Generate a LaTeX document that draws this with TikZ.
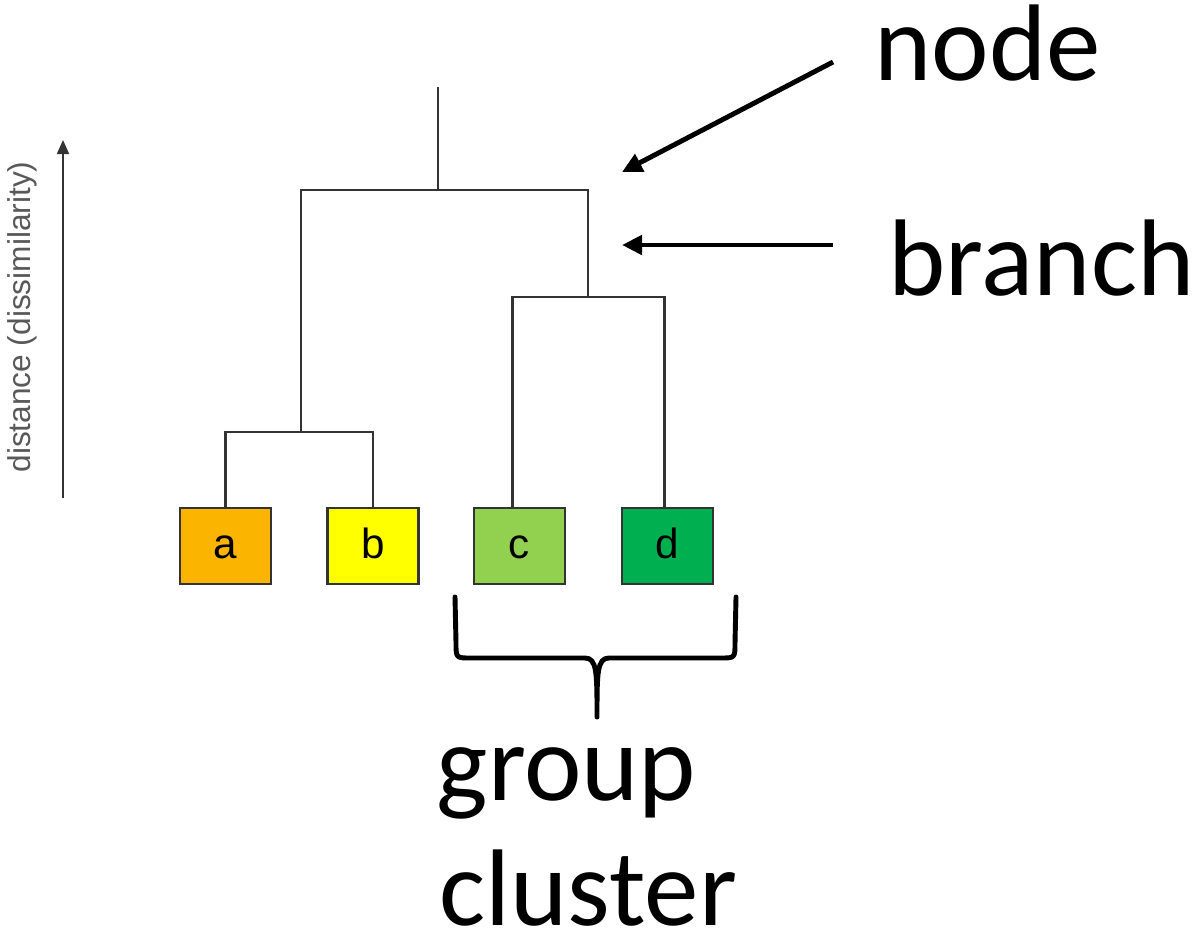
\documentclass[tikz,border=0pt]{standalone}
\usepackage{fontspec}
\setmainfont{Carlito}
\newfontfamily\arialfont{Liberation Sans}
\definecolor{leafa}{HTML}{FBB500}
\definecolor{leafb}{HTML}{FFFF00}
\definecolor{leafc}{HTML}{92D050}
\definecolor{leafd}{HTML}{00B050}
\definecolor{treegray}{HTML}{333333}
\usetikzlibrary{arrows.meta,positioning}

\tikzset{
  leaf/.style={draw=treegray, line width=0.8pt, minimum width=0.91cm, minimum height=0.76cm, inner sep=0pt, text height=0.73em, text depth=0pt, font=\arialfont\fontsize{12}{14}\selectfont},
  branchline/.style={draw=treegray, line width=0.6pt},
  callout/.style={-{Triangle[length=0.2cm, width=0.19cm]}, line width=1.4pt},
  bigword/.style={anchor=base west, inner sep=0pt, text depth=0pt, font=\fontsize{31}{37}\selectfont}
}

\begin{document}
\begin{tikzpicture}
  \useasboundingbox (0,0) rectangle (11.96,9.43);
  % Distance axis
  \coordinate (axisbot) at (0.63,4.45);
  \coordinate (axistop) at (0.63,8.03);
  \draw[-{Triangle[length=0.14cm, width=0.12cm]}, line width=0.5pt, black!80] (axisbot) -- (axistop);
  \node[rotate=90, font=\arialfont\fontsize{9}{11}\selectfont, text=black!65] (axislabel) at (0.22,6.26) {distance (dissimilarity)};
  % Leaves
  \node[leaf, fill=leafa] (a) at (2.255,3.97) {a};
  \node[leaf, fill=leafb] (b) at (3.73,3.97) {b};
  \node[leaf, fill=leafc] (c) at (5.195,3.97) {c};
  \node[leaf, fill=leafd] (d) at (6.675,3.97) {d};
  % Merge points
  \coordinate (ab) at (3.01,5.11);
  \coordinate (cd) at (5.88,6.46);
  \coordinate (root) at (4.38,7.53);
  \coordinate (top) at (4.38,8.56);
  % Dendrogram
  \draw[branchline] (a.north) |- (ab) -| (b.north);
  \draw[branchline] ([xshift=-0.07cm]c.north) |- (cd) -| ([xshift=-0.03cm]d.north);
  \draw[branchline] (ab) |- (root) -| (cd);
  \draw[branchline] (root) -- (top);
  % Callouts
  \coordinate (nodetail) at (8.33,8.81);
  \coordinate (nodetip) at (6.22,7.71);
  \coordinate (branchtail) at (8.33,6.98);
  \coordinate (branchtip) at (6.22,6.98);
  \draw[callout] (nodetail) -- (nodetip);
  \draw[callout] (branchtail) -- (branchtip);
  \node[bigword] (nodeword) at (8.74,8.63) {node};
  \node[bigword] (branchword) at (8.88,6.48) {branch};
  % Brace under c and d
  \draw[line width=1.4pt, line cap=round, line join=round]
    (4.55,3.46) -- (4.56,3.00) .. controls (4.56,2.85) .. (4.71,2.85)
    -- (5.85,2.85) .. controls (5.97,2.85) and (5.97,2.70) .. (5.97,2.26)
    .. controls (5.97,2.70) and (5.97,2.85) .. (6.09,2.85)
    -- (7.20,2.85) .. controls (7.35,2.85) .. (7.35,3.00) -- (7.36,3.46);
  \node[bigword] (groupword) at (4.36,1.43) {group};
  \node[bigword] (clusterword) at (4.39,0.18) {cluster};
\end{tikzpicture}
\end{document}
